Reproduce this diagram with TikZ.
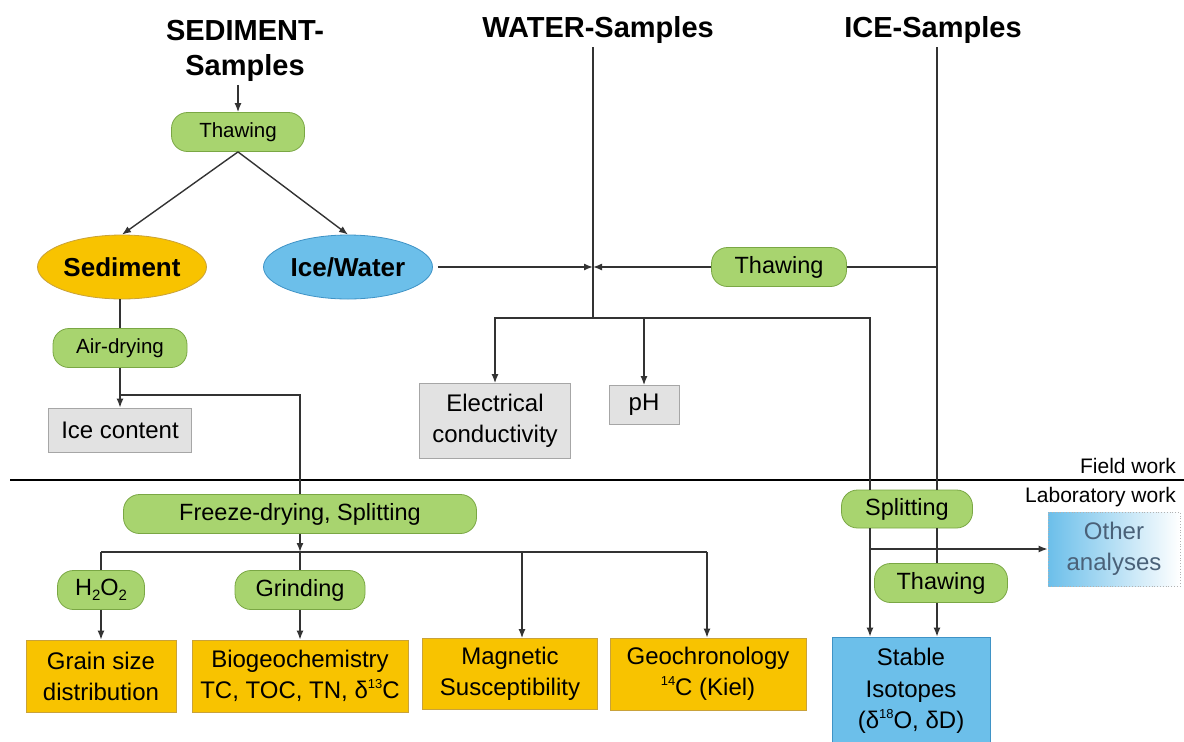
\documentclass[tikz,border=0pt]{standalone}
\usepackage{fontspec}
\setmainfont{Liberation Sans}
\usetikzlibrary{shapes.geometric,arrows.meta}

\definecolor{stepgreen}{HTML}{A8D46F}
\definecolor{stepgreenline}{HTML}{7AA744}
\definecolor{resorange}{HTML}{F8C300}
\definecolor{resorangeline}{HTML}{C9A23A}
\definecolor{resblue}{HTML}{6CBFEA}
\definecolor{resblueline}{HTML}{3F93C6}
\definecolor{fieldgrey}{HTML}{E2E2E2}
\definecolor{fieldgreyline}{HTML}{A6A6A6}
\definecolor{othertext}{HTML}{4A6178}
\definecolor{flowline}{HTML}{333333}

\newcommand{\isosup}[1]{\raisebox{0.8ex}{\fontsize{13}{13}\selectfont #1}}
\newcommand{\isosub}[1]{\raisebox{-0.4ex}{\fontsize{15}{15}\selectfont #1}}

\begin{document}
\begin{tikzpicture}[x=1pt, y=-1pt,
  >={Latex[length=9pt,width=7pt]},
  flow/.style={draw=flowline, line width=1.4pt},
  title/.style={inner sep=0pt, align=center, font=\bfseries\fontsize{29}{35}\selectfont},
  greenbox/.style={rectangle, draw=stepgreenline, line width=0.8pt, fill=stepgreen, rounded corners=16pt, inner sep=0pt, minimum height=39pt, font=\fontsize{23.5}{28}\selectfont},
  smallgreen/.style={greenbox, font=\fontsize{20.5}{24}\selectfont},
  resbox/.style={rectangle, draw=resorangeline, line width=0.8pt, fill=resorange, inner sep=0pt, align=center, minimum height=72pt, font=\fontsize{24}{31}\selectfont},
  fieldbox/.style={rectangle, draw=fieldgreyline, line width=0.8pt, fill=fieldgrey, inner sep=0pt, align=center, font=\fontsize{24}{31}\selectfont},
  blob/.style={ellipse, line width=0.8pt, inner sep=0pt, minimum width=169pt, minimum height=64pt, font=\bfseries\fontsize{26}{30}\selectfont},
  worklabel/.style={inner sep=0pt, anchor=east, font=\fontsize{21}{25}\selectfont}]

\useasboundingbox (0,0) rectangle (1184,742);

% sample titles
\node [title] (sedtitle) at (245,51) {SEDIMENT-\\Samples};
\node [title] (watertitle) at (598,30) {WATER-Samples};
\node [title] (icetitle) at (933,30) {ICE-Samples};

% field work
\node [smallgreen, minimum width=133pt] (thawA) at (238,132) {Thawing};
\node [blob, draw=resorangeline, fill=resorange] (sed) at (122,267) {Sediment};
\node [blob, draw=resblueline, fill=resblue] (icew) at (348,267) {Ice/Water};
\node [greenbox, minimum width=135pt] (thawB) at (779,267) {Thawing};
\node [smallgreen, minimum width=134pt] (airdry) at (120,348) {Air-drying};
\node [fieldbox, minimum width=143pt, minimum height=44pt] (icecont) at (120,430) {Ice content};
\node [fieldbox, minimum width=151pt, minimum height=75pt] (elcond) at (495,421) {Electrical\\conductivity};
\node [fieldbox, minimum width=70pt, minimum height=39pt] (ph) at (644,405) {pH};

% field / laboratory border
\coordinate (fieldL) at (10,480);
\coordinate (fieldR) at (1184,480);
\draw [line width=1.6pt, black] (fieldL) -- (fieldR);
\node [worklabel] (fieldlbl) at (1176,466) {Field work};
\node [worklabel] (lablbl) at (1176,497) {Laboratory work};

% laboratory work
\node [greenbox, minimum width=353pt] (freeze) at (300,514) {Freeze-drying, Splitting};
\node [greenbox, minimum width=87pt] (h2o2) at (101,590) {H\isosub{2}O\isosub{2}};
\node [greenbox, minimum width=130pt] (grind) at (300,590) {Grinding};
\node [resbox, minimum width=150pt] (grain) at (101,676) {Grain size\\distribution};
\node [resbox, minimum width=216pt] (biogeo) at (300,676) {Biogeochemistry\\TC, TOC, TN, δ\isosup{13}C};
\node [resbox, minimum width=175pt, minimum height=71pt] (magn) at (510,674) {Magnetic\\Susceptibility};
\node [resbox, minimum width=196pt] (geo) at (708,674) {Geochronology\\\isosup{14}C (Kiel)};
\node [greenbox, minimum width=131pt, minimum height=38pt] (split) at (907,509) {Splitting};
\node [greenbox, minimum width=133pt] (thawC) at (941,583) {Thawing};
\node [rectangle, draw=gray!60, dotted, line width=0.8pt, left color=resblue, right color=white, inner sep=0pt, align=center, minimum width=132pt, minimum height=74pt, text=othertext, font=\fontsize{24}{31}\selectfont] (other) at (1114,549) {Other\\analyses};
\node [rectangle, draw=resblueline, line width=0.8pt, fill=resblue, inner sep=0pt, align=center, minimum width=158pt, minimum height=108pt, font=\fontsize{24}{31.5}\selectfont] (stable) at (911,691) {Stable\\Isotopes\\(δ\isosup{18}O, δD)};

% junctions
\coordinate (wtop) at (593,47);
\coordinate (jn) at (593,267);
\coordinate (wbus) at (593,318);
\coordinate (isobus) at (870,318);
\coordinate (icetop) at (937,47);
\coordinate (adbr) at (120,395);
\coordinate (fbus) at (300,552);

% sediment path
\draw [flow, ->] (thawA.north |- sedtitle.south) ++(0,3) -- (thawA.north);
\draw [flow, ->] (thawA.south) -- (sed.north);
\draw [flow, ->] (thawA.south) -- (icew.north);
\draw [flow] (sed.south -| airdry.north) -- (airdry.north);
\draw [flow, ->] (airdry.south) -- (icecont.north);
\draw [flow] (adbr) -| (freeze.north);

% water path
\draw [flow] (wtop) -- (wbus);
\draw [flow, ->, shorten <=5pt] (icew.east) -- (jn);
\draw [flow, ->] (thawB.west) -- (jn);
\draw [flow, ->] (wbus) -| (elcond.north);
\draw [flow, ->] (ph.north |- wbus) -- (ph.north);
\draw [flow] (wbus) -- (isobus) -- (isobus |- split.north);
\draw [flow, ->] (isobus |- split.south) -- (isobus |- stable.north);
\draw [flow, ->] (isobus |- other.west) -- (other.west);

% ice path
\draw [flow] (thawB.east) -- (thawB.east -| icetop);
\draw [flow] (icetop) -- (icetop |- split.north);
\draw [flow] (icetop |- split.south) -- (icetop |- thawC.north);
\draw [flow, ->] (icetop |- thawC.south) -- (icetop |- stable.north);

% laboratory branches
\draw [flow, ->] (freeze.south) -- (fbus);
\draw [flow] (h2o2.north |- fbus) -- ([xshift=-1pt]geo.north |- fbus);
\draw [flow] (h2o2.north |- fbus) -- (h2o2.north);
\draw [flow] (fbus) -- (grind.north);
\draw [flow, ->] (h2o2.south) -- (grain.north);
\draw [flow, ->] (grind.south) -- (biogeo.north);
\draw [flow, ->] ([xshift=12pt]magn.north |- fbus) -- ([xshift=12pt]magn.north);
\draw [flow, ->] ([xshift=-1pt]geo.north |- fbus) -- ([xshift=-1pt]geo.north);

\end{tikzpicture}
\end{document}
